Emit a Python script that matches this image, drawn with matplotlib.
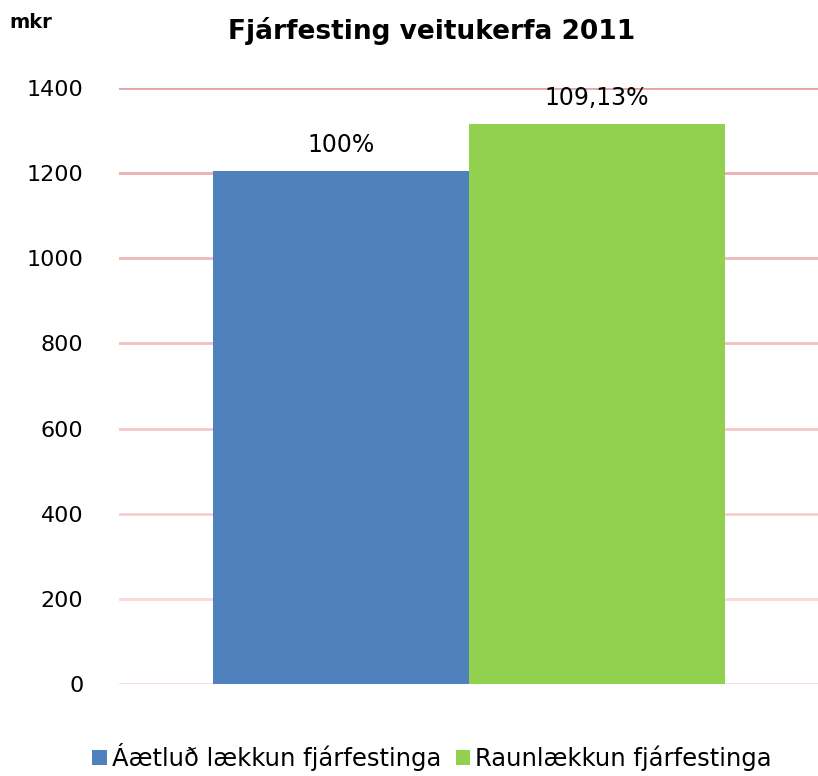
import matplotlib.pyplot as plt

# data
series_names = ["Áætluð lækkun fjárfestinga", "Raunlækkun fjárfestinga"]
values = [1205, 1315]
value_labels = ["100%", "109,13%"]
bar_colors = ["#4F81BD", "#92D050"]
yticks = [0, 200, 400, 600, 800, 1000, 1200, 1400]
grid_colors = ["#F9DCDC", "#F8D8D8", "#F6D0D0", "#F4C8C8",
               "#F2C0C0", "#EFB8B8", "#ECAEAE", "#E8A4A4"]

plt.rcParams['font.family'] = ['DejaVu Sans']

fig = plt.figure(figsize=(8.18, 7.76), dpi=100)
ax = fig.add_axes([0.146, 0.1186, 0.854, 0.768])

w = 0.3667
xs = [-w / 2, w / 2]
for x, v, c, name in zip(xs, values, bar_colors, series_names):
    ax.bar(x, v, width=w, color=c, label=name, zorder=3)

for x, v, lab in zip(xs, values, value_labels):
    ax.annotate(lab, (x, v), xytext=(0, 10), textcoords='offset points',
                ha='center', va='bottom', fontsize=17, color='#000000',
                annotation_clip=False)

# gridlines, lighter toward the bottom
for y, gc in zip(yticks, grid_colors):
    ax.axhline(y, color=gc, linewidth=2, zorder=1)

ax.set_xlim(-0.5, 0.5)
ax.set_ylim(0, 1400)
ax.set_yticks(yticks)
ax.set_yticklabels([str(t) for t in yticks], fontsize=16)
ax.set_xticks([])
ax.tick_params(axis='y', length=0, pad=26)
for s in ax.spines.values():
    s.set_visible(False)

fig.text(0.012, 0.983, "mkr", fontsize=14, fontweight='bold', va='top', ha='left')
fig.text(0.528, 0.978, "Fjárfesting veitukerfa 2011", fontsize=19,
         fontweight='bold', va='top', ha='center')

fig.legend(loc='lower center', bbox_to_anchor=(0.528, -0.022), ncol=2,
           frameon=False, fontsize=17.5, handlelength=0.6, handleheight=0.6,
           handletextpad=0.2, columnspacing=0.6)

plt.savefig('out.png', dpi=100, facecolor='white')
